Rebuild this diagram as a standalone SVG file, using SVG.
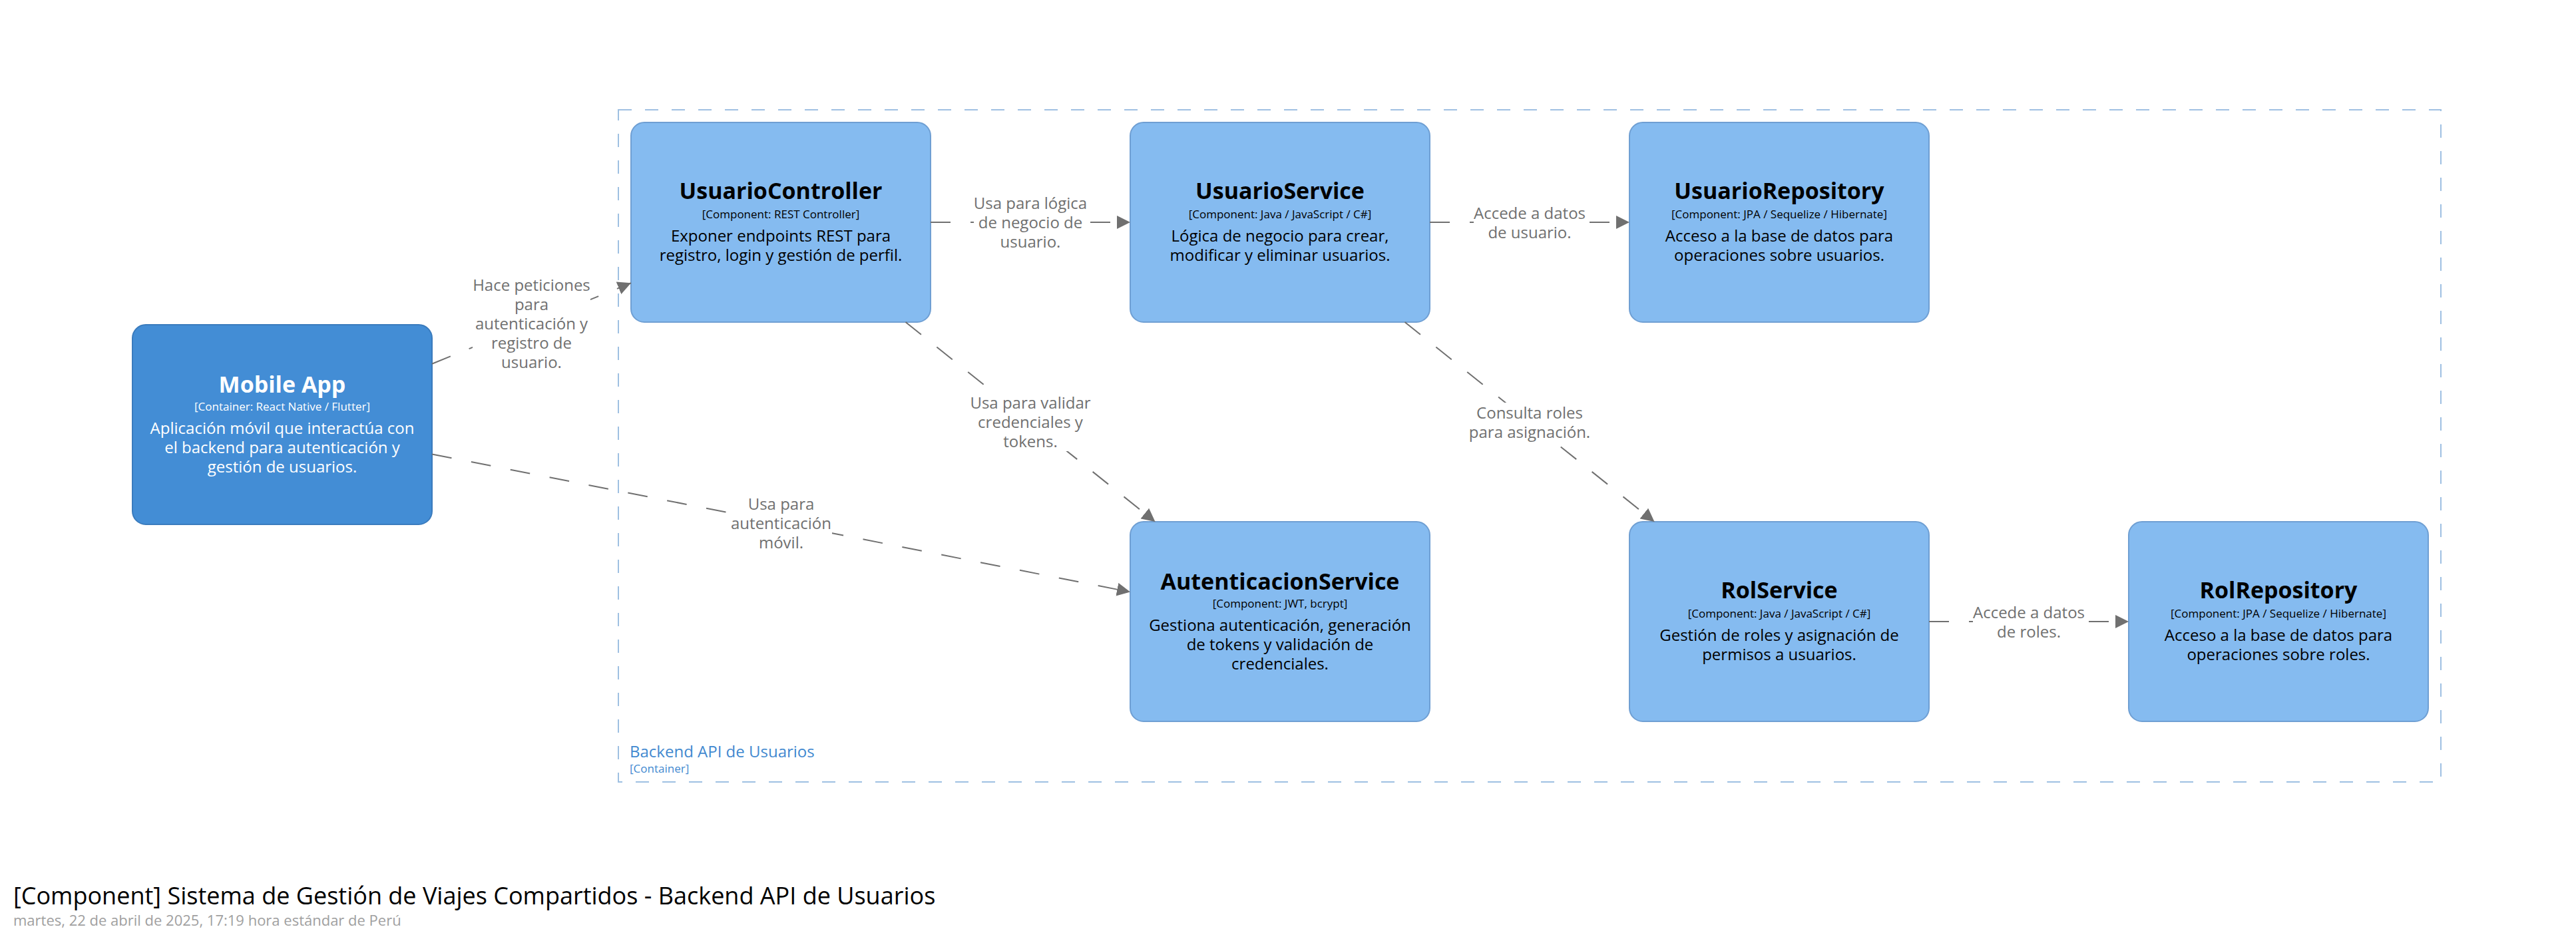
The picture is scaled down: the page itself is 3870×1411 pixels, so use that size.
<svg xmlns="http://www.w3.org/2000/svg" width="3870" height="1411" viewBox="0 0 3870 1411">
<style>
.bg{fill:#ffffff}
.comp{fill:#85bbf0;stroke:#6f9fd3;stroke-width:2}
.cont{fill:#438dd5;stroke:#3a7bbd;stroke-width:2}
.name{font-family:"Open Sans","DejaVu Sans",sans-serif;font-weight:bold;font-size:34px;text-anchor:middle}
.meta{font-family:"Open Sans","DejaVu Sans",sans-serif;font-size:17px;text-anchor:middle}
.desc{font-family:"Open Sans","DejaVu Sans",sans-serif;font-size:24px;text-anchor:middle}
.dark{fill:#000000}
.light{fill:#ffffff}
.bnd{fill:none;stroke:#9fc0e2;stroke-width:2;stroke-dasharray:20 20}
.bndname{font-family:"Open Sans","DejaVu Sans",sans-serif;font-size:24px;fill:#4289d0}
.bndmeta{font-family:"Open Sans","DejaVu Sans",sans-serif;font-size:17px;fill:#4289d0}
.rel{fill:none;stroke:#707070;stroke-width:2;stroke-dasharray:30 30}
.lblbg{fill:#ffffff}
.lbl{font-family:"Open Sans","DejaVu Sans",sans-serif;font-size:24px;fill:#707070;text-anchor:middle}
.title{font-family:"Open Sans","DejaVu Sans",sans-serif;font-size:36px;fill:#000000}
.sub{font-family:"Open Sans","DejaVu Sans",sans-serif;font-size:22px;fill:#a0a0a0}
</style>
<defs>
<marker id="arrow" markerUnits="userSpaceOnUse" markerWidth="20" markerHeight="20" viewBox="0 0 20 20" refX="20" refY="10" orient="auto">
<path d="M0,0 L20,10 L0,20 z" fill="#707070"/>
</marker>
</defs>
<rect class="bg" x="0" y="0" width="3870" height="1411"/>

<g id="boundary-backend">
<rect class="bnd" x="929" y="165" width="2738" height="1010"/>
<text class="bndname" x="946" y="1138">Backend API de Usuarios</text>
<text class="bndmeta" x="946" y="1161">[Container]</text>
</g>

<g id="node-mobile-app">
<rect class="cont" x="199" y="488" width="450" height="300" rx="20" ry="20"/>
<text class="name light" x="424" y="590">Mobile App</text>
<text class="meta light" x="424" y="617">[Container: React Native / Flutter]</text>
<text class="desc light" x="424" y="652">Aplicación móvil que interactúa con</text>
<text class="desc light" x="424" y="681">el backend para autenticación y</text>
<text class="desc light" x="424" y="710">gestión de usuarios.</text>
</g>

<g id="node-usuario-controller">
<rect class="comp" x="948" y="184" width="450" height="300" rx="20" ry="20"/>
<text class="name dark" x="1173" y="299">UsuarioController</text>
<text class="meta dark" x="1173" y="328">[Component: REST Controller]</text>
<text class="desc dark" x="1173" y="363">Exponer endpoints REST para</text>
<text class="desc dark" x="1173" y="392">registro, login y gestión de perfil.</text>
</g>

<g id="node-usuario-service">
<rect class="comp" x="1698" y="184" width="450" height="300" rx="20" ry="20"/>
<text class="name dark" x="1923" y="299">UsuarioService</text>
<text class="meta dark" x="1923" y="328">[Component: Java / JavaScript / C#]</text>
<text class="desc dark" x="1923" y="363">Lógica de negocio para crear,</text>
<text class="desc dark" x="1923" y="392">modificar y eliminar usuarios.</text>
</g>

<g id="node-usuario-repository">
<rect class="comp" x="2448" y="184" width="450" height="300" rx="20" ry="20"/>
<text class="name dark" x="2673" y="299">UsuarioRepository</text>
<text class="meta dark" x="2673" y="328">[Component: JPA / Sequelize / Hibernate]</text>
<text class="desc dark" x="2673" y="363">Acceso a la base de datos para</text>
<text class="desc dark" x="2673" y="392">operaciones sobre usuarios.</text>
</g>

<g id="node-autenticacion-service">
<rect class="comp" x="1698" y="784" width="450" height="300" rx="20" ry="20"/>
<text class="name dark" x="1923" y="886">AutenticacionService</text>
<text class="meta dark" x="1923" y="913">[Component: JWT, bcrypt]</text>
<text class="desc dark" x="1923" y="948">Gestiona autenticación, generación</text>
<text class="desc dark" x="1923" y="977">de tokens y validación de</text>
<text class="desc dark" x="1923" y="1006">credenciales.</text>
</g>

<g id="node-rol-service">
<rect class="comp" x="2448" y="784" width="450" height="300" rx="20" ry="20"/>
<text class="name dark" x="2673" y="899">RolService</text>
<text class="meta dark" x="2673" y="928">[Component: Java / JavaScript / C#]</text>
<text class="desc dark" x="2673" y="963">Gestión de roles y asignación de</text>
<text class="desc dark" x="2673" y="992">permisos a usuarios.</text>
</g>

<g id="node-rol-repository">
<rect class="comp" x="3198" y="784" width="450" height="300" rx="20" ry="20"/>
<text class="name dark" x="3423" y="899">RolRepository</text>
<text class="meta dark" x="3423" y="928">[Component: JPA / Sequelize / Hibernate]</text>
<text class="desc dark" x="3423" y="963">Acceso a la base de datos para</text>
<text class="desc dark" x="3423" y="992">operaciones sobre roles.</text>
</g>

<g id="connectors">
<line class="rel" x1="649" y1="546.7" x2="948" y2="425.3" marker-end="url(#arrow)"/>
<line class="rel" x1="649" y1="682.4" x2="1698" y2="889.6" marker-end="url(#arrow)"/>
<line class="rel" x1="1398" y1="334" x2="1698" y2="334" marker-end="url(#arrow)"/>
<line class="rel" x1="2148" y1="334" x2="2448" y2="334" marker-end="url(#arrow)"/>
<line class="rel" x1="1360.5" y1="484" x2="1735.5" y2="784" marker-end="url(#arrow)"/>
<line class="rel" x1="2110.5" y1="484" x2="2485.5" y2="784" marker-end="url(#arrow)"/>
<line class="rel" x1="2898" y1="934" x2="3198" y2="934" marker-end="url(#arrow)"/>

<g id="label-mobile-controller">
<rect class="lblbg" x="710" y="414" width="177" height="144"/>
<text class="lbl" x="798.5" y="436.5">Hace peticiones</text>
<text class="lbl" x="798.5" y="465.5">para</text>
<text class="lbl" x="798.5" y="494.5">autenticación y</text>
<text class="lbl" x="798.5" y="523.5">registro de</text>
<text class="lbl" x="798.5" y="552.5">usuario.</text>
</g>
<g id="label-mobile-auth">
<rect class="lblbg" x="1097" y="743" width="153" height="87"/>
<text class="lbl" x="1173.5" y="765.5">Usa para</text>
<text class="lbl" x="1173.5" y="794.5">autenticación</text>
<text class="lbl" x="1173.5" y="823.5">móvil.</text>
</g>
<g id="label-controller-service">
<rect class="lblbg" x="1463" y="291" width="170" height="87"/>
<text class="lbl" x="1548" y="313.5">Usa para lógica</text>
<text class="lbl" x="1548" y="342.5">de negocio de</text>
<text class="lbl" x="1548" y="371.5">usuario.</text>
</g>
<g id="label-service-repository">
<rect class="lblbg" x="2214" y="305" width="168" height="58"/>
<text class="lbl" x="2298" y="328.5">Accede a datos</text>
<text class="lbl" x="2298" y="357.5">de usuario.</text>
</g>
<g id="label-controller-auth">
<rect class="lblbg" x="1457" y="590" width="182" height="88"/>
<text class="lbl" x="1548" y="613.5">Usa para validar</text>
<text class="lbl" x="1548" y="642.5">credenciales y</text>
<text class="lbl" x="1548" y="671.5">tokens.</text>
</g>
<g id="label-service-rol">
<rect class="lblbg" x="2207" y="605" width="182" height="58"/>
<text class="lbl" x="2298" y="628.5">Consulta roles</text>
<text class="lbl" x="2298" y="657.5">para asignación.</text>
</g>
<g id="label-rol-repository">
<rect class="lblbg" x="2964" y="905" width="168" height="58"/>
<text class="lbl" x="3048" y="928.5">Accede a datos</text>
<text class="lbl" x="3048" y="957.5">de roles.</text>
</g>
</g>

<g id="title">
<text class="title" x="20" y="1359">[Component] Sistema de Gestión de Viajes Compartidos - Backend API de Usuarios</text>
<text class="sub" x="20" y="1391">martes, 22 de abril de 2025, 17:19 hora estándar de Perú</text>
</g>
</svg>
